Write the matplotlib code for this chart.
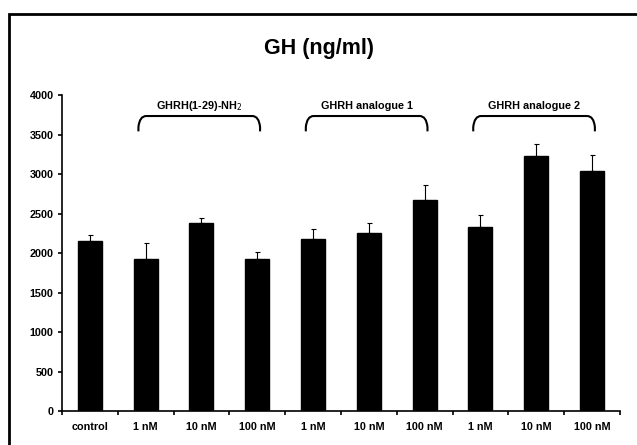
import matplotlib
matplotlib.use('Agg')
import matplotlib.pyplot as plt
from matplotlib.patches import Rectangle
from matplotlib.path import Path
from matplotlib.patches import PathPatch
import numpy as np

plt.rcParams['font.family'] = ['Liberation Sans', 'DejaVu Sans']

# data
categories = ['control', '1 nM', '10 nM', '100 nM', '1 nM', '10 nM', '100 nM',
              '1 nM', '10 nM', '100 nM']
values = [2150, 1920, 2375, 1930, 2180, 2255, 2670, 2330, 3225, 3035]
errors = [80, 210, 70, 85, 120, 120, 190, 150, 150, 210]
groups = ['GHRH(1-29)-NH$_2$', 'GHRH analogue 1', 'GHRH analogue 2']
group_spans = [(1, 3), (4, 6), (7, 9)]

fig = plt.figure(figsize=(6.37, 4.45), dpi=100)
ax = fig.add_axes([0.0973, 0.0764, 0.876, 0.7101])

x = np.arange(len(categories))
ax.bar(x, values, width=0.43, color='black', edgecolor='black', zorder=2)
ax.errorbar(x, values, yerr=[np.zeros(len(errors)), errors], fmt='none',
            ecolor='black', elinewidth=0.8, capsize=1.8, capthick=0.8, zorder=1)

ax.set_xlim(-0.5, len(categories) - 0.5)
ax.set_ylim(0, 4000)
ax.set_yticks(np.arange(0, 4001, 500))
ax.set_xticks(np.arange(-0.5, len(categories), 1.0))
ax.set_xticklabels([])
ax.set_xticks(x, minor=True)
ax.set_xticklabels(categories, minor=True)
ax.tick_params(axis='x', which='minor', length=0, pad=8, labelsize=7.8)
ax.tick_params(axis='x', which='major', length=3, width=1.2)
ax.tick_params(axis='y', length=3, width=1.2, labelsize=7.8, pad=3)
for lab in ax.get_xticklabels(minor=True) + ax.get_yticklabels():
    lab.set_fontweight('bold')

for s in ['top', 'right']:
    ax.spines[s].set_visible(False)
for s in ['left', 'bottom']:
    ax.spines[s].set_linewidth(1.2)

# braces over groups
y_top, y_end = 3734, 3540
rx, ry = 0.14, 140
for name, (a, b) in zip(groups, group_spans):
    x0, x1 = a - 0.13, b + 0.05
    verts = [(x0, y_end), (x0, y_top - ry), (x0 + 0.02, y_top), (x0 + rx, y_top),
             (x1 - rx, y_top), (x1 - 0.02, y_top), (x1, y_top - ry), (x1, y_end)]
    codes = [Path.MOVETO, Path.LINETO, Path.CURVE3, Path.CURVE3,
             Path.LINETO, Path.CURVE3, Path.CURVE3, Path.LINETO]
    ax.add_patch(PathPatch(Path(verts, codes), fill=False, lw=1.5,
                           edgecolor='black', clip_on=False))
    ax.text((x0 + x1) / 2, 3855, name, ha='center', va='center',
            fontsize=7.8, fontweight='bold')

fig.text(0.5, 0.89, 'GH (ng/ml)', ha='center', va='center',
         fontsize=15.5, fontweight='bold')

# outer frame (cut off at right and bottom)
fig.add_artist(Rectangle((9 / 637, -0.1), 1.2, 1.1 - 14 / 445,
                         transform=fig.transFigure, fill=False,
                         edgecolor='black', lw=2))

fig.savefig('out.png', dpi=100, facecolor='white')
